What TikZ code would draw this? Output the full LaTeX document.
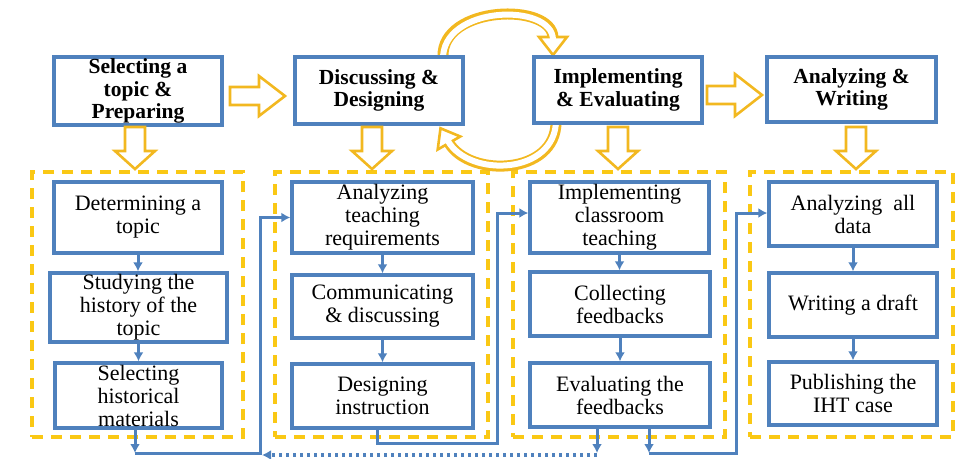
\documentclass[tikz,border=0pt]{standalone}
\usepackage{fontspec}
\setmainfont{Liberation Serif}
\usetikzlibrary{arrows.meta,calc}
\definecolor{bblue}{HTML}{4F81BD}
\definecolor{agold}{RGB}{242,184,32}
\definecolor{dgold}{RGB}{250,200,20}
\begin{document}
\begin{tikzpicture}[x=1pt,y=-1pt,
  box/.style={draw=bblue, line width=3.4pt, fill=white, inner sep=0pt, align=center, font=\fontsize{22}{23}\selectfont},
  tbox/.style={box, font=\bfseries\fontsize{21.5}{22.5}\selectfont},
  dbox/.style={draw=dgold, line width=3.2pt, dash pattern=on 11pt off 8pt, inner sep=0pt},
  conn/.style={draw=bblue, line width=3pt},
  tip/.style={-{Latex[length=9pt,width=10pt]}},
  hollow/.style={draw=agold, fill=white, line width=2.6pt, line join=miter}]
\useasboundingbox (0,0) rectangle (957,458);

% dashed group frames
\node[dbox, minimum width=211pt, minimum height=265pt] (E1) at (137.5,304.5) {};
\node[dbox, minimum width=213pt, minimum height=265pt] (E2) at (381.5,304.5) {};
\node[dbox, minimum width=212pt, minimum height=265pt] (E3) at (619,304.5) {};
\node[dbox, minimum width=203pt, minimum height=265pt] (E4) at (851.5,304.5) {};

% curved hollow arrows between stage 2 and stage 3
\draw[agold, line width=11pt] (443,57) .. controls (441,5) and (553,2) .. (553,38);
\draw[hollow] (539,37) -- (567,37) -- (553,55) -- cycle;
\draw[white, line width=6pt] (443,60) .. controls (441,5) and (553,2) .. (553,40);

\draw[agold, line width=11pt] (556,122) .. controls (556,175) and (470,178) .. (449,143);
\draw[hollow] (460.3,136.5) -- (440.5,128.3) -- (437.7,149.5) -- cycle;
\draw[white, line width=6pt] (556,120) .. controls (556,175) and (469,178) .. (448,141);

% top stage boxes
\node[tbox, minimum width=168pt, minimum height=68pt] (T1) at (138,91) {Selecting a\\topic \&\\Preparing};
\node[tbox, minimum width=168pt, minimum height=67pt] (T2) at (379,90.5) {Discussing \&\\Designing};
\node[tbox, minimum width=168pt, minimum height=66pt] (T3) at (618,90) {Implementing\\\& Evaluating};
\node[tbox, minimum width=169pt, minimum height=65pt] (T4) at (851.5,89.5) {Analyzing \&\\Writing};

% hollow arrows between stages
\draw[hollow] (230,87) -- (259,87) -- (259,76) -- (285,96) -- (259,116) -- (259,105) -- (230,105) -- cycle;
\draw[hollow] (707,86) -- (735,86) -- (735,74) -- (762,95) -- (735,116) -- (735,104) -- (707,104) -- cycle;
\foreach \cx in {135,372,618,856}{
  \draw[hollow] (\cx-10,127) -- (\cx+10,127) -- (\cx+10,151) -- (\cx+20,151) -- (\cx,169) -- (\cx-20,151) -- (\cx-10,151) -- cycle;
}

% inner boxes
\node[box, minimum width=168pt, minimum height=71pt] (A1) at (138,217.5) {Determining a\\topic};
\node[box, minimum width=177pt, minimum height=69pt] (A2) at (138.5,307.5) {Studying the\\history of the\\topic};
\node[box, minimum width=167pt, minimum height=65pt] (A3) at (138.5,395.5) {Selecting\\historical\\materials};

\node[box, minimum width=181pt, minimum height=71pt] (B1) at (382.5,217.5) {Analyzing\\teaching\\requirements};
\node[box, minimum width=181pt, minimum height=63pt] (B2) at (382.5,306.5) {Communicating\\\& discussing};
\node[box, minimum width=181pt, minimum height=64pt] (B3) at (382.5,396) {Designing\\instruction};

\node[box, minimum width=179pt, minimum height=71pt] (C1) at (619.5,217.5) {Implementing\\classroom\\teaching};
\node[box, minimum width=180pt, minimum height=64pt] (C2) at (620,304) {Collecting\\feedbacks};
\node[box, minimum width=180pt, minimum height=64pt] (C3) at (620,395) {Evaluating the\\feedbacks};

\node[box, minimum width=168pt, minimum height=64pt] (D1) at (853,214) {Analyzing\ \ all\\data};
\node[box, minimum width=168pt, minimum height=64pt] (D2) at (853,305) {Writing a draft};
\node[box, minimum width=168pt, minimum height=63pt] (D3) at (853,393.5) {Publishing the\\IHT case};

% arrows inside columns
\foreach \u/\v in {A1/A2,A2/A3,B1/B2,B2/B3,C1/C2,C2/C3,D1/D2,D2/D3}{
  \draw[conn,tip] (\u.south) -- (\u.south |- \v.north);
}

% links between columns
\coordinate (p1) at (135,453);
\coordinate (q1) at (260,453);
\draw[conn,tip] (A3.south -| p1) -- (p1);
\draw[conn,tip] (p1) -- (q1) |- (B1.west);

\coordinate (p2) at (377,443);
\coordinate (q2) at (497,443);
\draw[conn,tip] (B3.south -| p2) -- (p2) -- (q2) |- ([yshift=4.5pt]C1.west);

\coordinate (p3) at (649,453);
\coordinate (q3) at (736,453);
\draw[conn,tip] (C3.south -| p3) -- (p3);
\draw[conn,tip] (p3) -- (q3) |- ([yshift=1pt]D1.west);

\coordinate (p4) at (597,453);
\coordinate (r4) at (262,455);
\draw[conn,tip] (C3.south -| p4) -- (p4);
\draw[conn, line width=3.5pt, dash pattern=on 3.5pt off 3.5pt, tip] (p4 |- r4) -- (r4);
\end{tikzpicture}
\end{document}
